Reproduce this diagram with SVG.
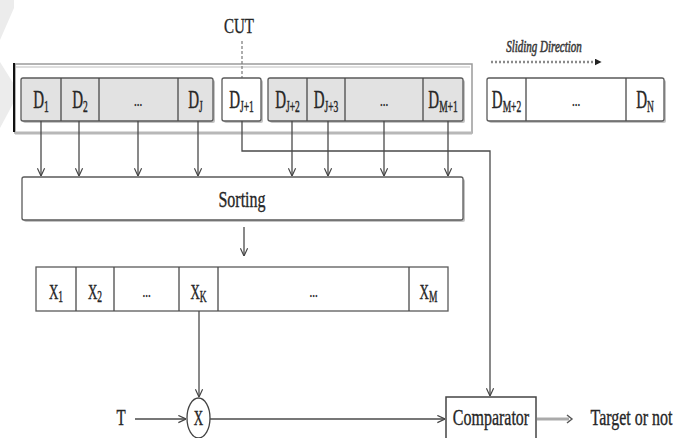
<svg xmlns="http://www.w3.org/2000/svg" width="689" height="438" viewBox="0 0 689 438">
<defs>
<style>
.t{font-family:"Liberation Serif",serif;fill:#262626;stroke:#262626;stroke-width:0.25;text-anchor:middle}
.d{font-size:15px}
.x{font-size:13px}
.s{font-size:9.5px}
.dots{font-size:11px}
.lbl{font-size:16px}
.box{stroke:#5a5a5a;stroke-width:1.3}
.sh{fill:#c4c4c4}
.gray{fill:#e2e2e2}
.white{fill:#fff}
.ln{fill:none;stroke:#4a4a4a;stroke-width:1.3}
.div{stroke:#4a4a4a;stroke-width:1.3}
</style>
<marker id="arr" viewBox="0 0 10 10" refX="9.5" refY="5" markerWidth="9" markerHeight="9" orient="auto" markerUnits="userSpaceOnUse">
<path d="M1,1 L9.5,5 L1,9" fill="none" stroke="#444" stroke-width="1.3"/>
</marker>
<marker id="tri" viewBox="0 0 10 10" refX="2" refY="5" markerWidth="7" markerHeight="7" orient="auto" markerUnits="userSpaceOnUse">
<path d="M0,0 L10,5 L0,10 z" fill="#222"/>
</marker>
</defs>
<rect width="689" height="438" fill="#fff"/>
<g id="watermark" fill="#ececec">
<polygon points="0,0 14,0 14,8 0,40"/>
<polygon points="0,62 15,86 15,100 0,128"/>
</g>

<g id="window-frame">
<rect x="15" y="64" width="457" height="69" fill="none" stroke="#9a9a9a" stroke-width="1.5"/>
<line x1="16" y1="67" x2="470" y2="67" stroke="#dedede" stroke-width="2"/>
<line x1="15" y1="133" x2="472" y2="133" stroke="#b8b8b8" stroke-width="3"/>
<line x1="14" y1="63" x2="14" y2="132" stroke="#111" stroke-width="2"/>
</g>

<g id="cut">
<text class="t" transform="translate(239,33) scale(1,1.45)" font-size="15">CUT</text>
<line x1="242" y1="41" x2="242" y2="78" stroke="#777" stroke-width="1.2" stroke-dasharray="3,2"/>
</g>

<g id="d-left">
<rect class="sh" x="23" y="80" width="192" height="43" rx="2"/>
<rect class="box gray" x="21" y="78" width="192" height="43" rx="2"/>
<line class="div" x1="61" y1="78" x2="61" y2="121"/>
<line class="div" x1="99" y1="78" x2="99" y2="121"/>
<line class="div" x1="178" y1="78" x2="178" y2="121"/>
<text class="t d" transform="translate(41,108) scale(1,1.75)">D<tspan class="s" dy="2">1</tspan></text>
<text class="t d" transform="translate(80,108) scale(1,1.75)">D<tspan class="s" dy="2">2</tspan></text>
<text class="t dots" transform="translate(138,106) scale(1,1.5)">...</text>
<text class="t d" transform="translate(195.5,108) scale(1,1.75)">D<tspan class="s" dy="2">J</tspan></text>
</g>

<g id="d-j1">
<rect class="sh" x="224" y="80" width="39" height="43" rx="2"/>
<rect class="box white" x="222" y="78" width="39" height="43" rx="2"/>
<text class="t d" transform="translate(241.5,108) scale(1,1.75)">D<tspan class="s" dy="2">J+1</tspan></text>
</g>

<g id="d-right">
<rect class="sh" x="270" y="80" width="195" height="43" rx="2"/>
<rect class="box gray" x="268" y="78" width="195" height="43" rx="2"/>
<line class="div" x1="307" y1="78" x2="307" y2="121"/>
<line class="div" x1="345" y1="78" x2="345" y2="121"/>
<line class="div" x1="423" y1="78" x2="423" y2="121"/>
<text class="t d" transform="translate(287.5,108) scale(1,1.75)">D<tspan class="s" dy="2">J+2</tspan></text>
<text class="t d" transform="translate(326,108) scale(1,1.75)">D<tspan class="s" dy="2">J+3</tspan></text>
<text class="t dots" transform="translate(384,106) scale(1,1.5)">...</text>
<text class="t d" transform="translate(443,108) scale(1,1.75)">D<tspan class="s" dy="2">M+1</tspan></text>
</g>

<g id="sliding">
<text class="t" font-size="11" font-style="italic" transform="translate(544,52) scale(1,1.45)" style="fill:#3a3a3a;stroke:#3a3a3a;stroke-width:0.4">Sliding Direction</text>
<line x1="491" y1="62" x2="596" y2="62" stroke="#8a8a8a" stroke-width="2.5" stroke-dasharray="2,2" marker-end="url(#tri)"/>
</g>

<g id="d-outside">
<rect class="sh" x="489" y="80" width="177" height="43" rx="2"/>
<rect class="box white" x="487" y="78" width="177" height="43" rx="2"/>
<line class="div" x1="526" y1="78" x2="526" y2="121"/>
<line class="div" x1="626" y1="78" x2="626" y2="121"/>
<text class="t d" transform="translate(506.5,108) scale(1,1.75)">D<tspan class="s" dy="2">M+2</tspan></text>
<text class="t dots" transform="translate(576,106) scale(1,1.5)">...</text>
<text class="t d" transform="translate(645,108) scale(1,1.75)">D<tspan class="s" dy="2">N</tspan></text>
</g>

<g id="sorting">
<rect class="sh" x="24" y="179" width="441" height="43" rx="2"/>
<rect class="box white" x="22" y="177" width="441" height="43" rx="2"/>
<text class="t lbl" transform="translate(242,207) scale(1,1.5)">Sorting</text>
</g>

<g id="x-row">
<rect class="box white" x="36" y="267" width="412" height="44"/>
<line class="div" x1="76" y1="267" x2="76" y2="311"/>
<line class="div" x1="114" y1="267" x2="114" y2="311"/>
<line class="div" x1="179" y1="267" x2="179" y2="311"/>
<line class="div" x1="218" y1="267" x2="218" y2="311"/>
<line class="div" x1="409" y1="267" x2="409" y2="311"/>
<text class="t x" transform="translate(56,299) scale(1,1.65)">X<tspan class="s" dy="2">1</tspan></text>
<text class="t x" transform="translate(95,299) scale(1,1.65)">X<tspan class="s" dy="2">2</tspan></text>
<text class="t dots" transform="translate(146.5,297) scale(1,1.5)">...</text>
<text class="t x" transform="translate(198.5,299) scale(1,1.65)">X<tspan class="s" dy="2">K</tspan></text>
<text class="t dots" transform="translate(313.5,297) scale(1,1.5)">...</text>
<text class="t x" transform="translate(428.5,299) scale(1,1.65)">X<tspan class="s" dy="2">M</tspan></text>
</g>

<g id="t-input">
<text class="t" transform="translate(121,425) scale(1,1.5)" font-size="15">T</text>
</g>

<g id="multiplier">
<ellipse cx="198.5" cy="418" rx="11.5" ry="20" fill="#fff" stroke="#444" stroke-width="1.3"/>
<text class="t x" transform="translate(198.5,425) scale(1,1.65)">X</text>
</g>

<g id="comparator">
<rect x="446" y="397" width="90" height="45" fill="#fff" stroke="#444" stroke-width="1.5"/>
<text class="t lbl" transform="translate(491,425) scale(1,1.5)">Comparator</text>
</g>

<g id="output">
<text class="t lbl" transform="translate(631.5,425) scale(1,1.5)">Target or not</text>
</g>

<g id="connectors">
<line class="ln" x1="41" y1="121" x2="41" y2="176" marker-end="url(#arr)"/>
<line class="ln" x1="79" y1="121" x2="79" y2="176" marker-end="url(#arr)"/>
<line class="ln" x1="138" y1="121" x2="138" y2="176" marker-end="url(#arr)"/>
<line class="ln" x1="198" y1="121" x2="198" y2="176" marker-end="url(#arr)"/>
<line class="ln" x1="292" y1="121" x2="292" y2="176" marker-end="url(#arr)"/>
<line class="ln" x1="328" y1="121" x2="328" y2="176" marker-end="url(#arr)"/>
<line class="ln" x1="384" y1="121" x2="384" y2="176" marker-end="url(#arr)"/>
<line class="ln" x1="448" y1="121" x2="448" y2="176" marker-end="url(#arr)"/>
<polyline class="ln" points="242,121 242,151 490,151 490,396" marker-end="url(#arr)"/>
<line class="ln" x1="244" y1="227" x2="244" y2="256" marker-end="url(#arr)"/>
<line class="ln" x1="199" y1="311" x2="199" y2="397" marker-end="url(#arr)"/>
<line class="ln" x1="135" y1="419" x2="186" y2="419" marker-end="url(#arr)"/>
<line class="ln" x1="210" y1="419" x2="445" y2="419" marker-end="url(#arr)"/>
<line x1="537" y1="419" x2="569" y2="419" stroke="#aaa" stroke-width="3"/>
<path d="M567,415 L572,419 L567,423" fill="none" stroke="#555" stroke-width="1.4"/>
</g>
</svg>
